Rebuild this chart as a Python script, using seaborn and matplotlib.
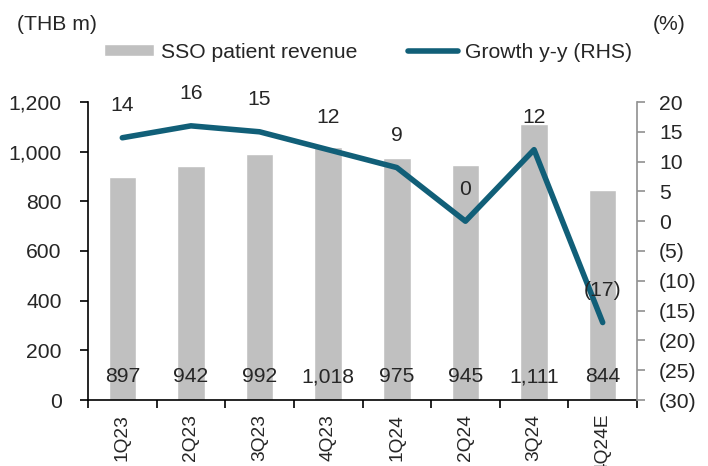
import numpy as np
import pandas as pd
import matplotlib
matplotlib.use("Agg")
import matplotlib.pyplot as plt
import seaborn as sns
from matplotlib.ticker import FuncFormatter, FixedLocator

quarters = ["1Q23", "2Q23", "3Q23", "4Q23", "1Q24", "2Q24", "3Q24", "4Q24E"]
revenue = [897, 942, 992, 1018, 975, 945, 1111, 844]
growth = [14, 16, 15, 12, 9, 0, 12, -17]

bar_color = "#c0c0c0"
line_color = "#115f78"
fs = 15.2

sns.set_theme(style="white")
plt.rcParams["font.family"] = ["Liberation Sans", "DejaVu Sans"]
plt.rcParams["font.size"] = fs

df = pd.DataFrame({"quarter": quarters, "revenue": revenue, "growth": growth})

fig = plt.figure(figsize=(7.08, 4.66), dpi=100)
ax = fig.add_axes([88 / 708, 66 / 466, 549 / 708, 298 / 466])

sns.barplot(data=df, x="quarter", y="revenue", color=bar_color, width=0.4,
            saturation=1, ax=ax, label="SSO patient revenue")
if ax.get_legend() is not None:
    ax.get_legend().remove()
ax.set_ylim(0, 1200)
ax.set_xlim(-0.5, len(quarters) - 0.5)
ax.set_xlabel("")
ax.set_ylabel("")
ax.yaxis.set_major_locator(FixedLocator(np.arange(0, 1201, 200)))
ax.yaxis.set_major_formatter(FuncFormatter(lambda v, p: f"{v:,.0f}"))
ax.tick_params(axis="y", direction="out", length=6, width=1.2, color="black",
               labelsize=fs, left=True, pad=13)
ax.tick_params(axis="x", which="major", length=0, labelsize=13.8, pad=10,
               labelrotation=90)
ax.set_xticks(np.arange(len(quarters) + 1) - 0.5, minor=True)
ax.tick_params(axis="x", which="minor", direction="out", length=6, width=1.2,
               color="black", bottom=True)
for side in ["top", "right"]:
    ax.spines[side].set_visible(False)
ax.spines["left"].set_color("black")
ax.spines["bottom"].set_color("black")
ax.spines["left"].set_linewidth(1.2)
ax.spines["bottom"].set_linewidth(1.2)

for i, v in enumerate(revenue):
    ax.text(i, 93, f"{v:,}", ha="center", va="center", fontsize=fs)

ax2 = ax.twinx()
x = np.arange(len(quarters))
sns.lineplot(x=x, y=growth, color=line_color, linewidth=4, ax=ax2,
             label="Growth y-y (RHS)", legend=False)
ax2.set_ylim(-30, 20)
ax2.yaxis.set_major_locator(FixedLocator(np.arange(-30, 21, 5)))
ax2.yaxis.set_major_formatter(
    FuncFormatter(lambda v, p: f"({abs(v):.0f})" if v < 0 else f"{v:.0f}"))
ax2.tick_params(axis="y", direction="out", length=6, width=1.2, color="#909090",
                labelsize=fs, right=True, pad=10)
for side in ["top", "left", "bottom"]:
    ax2.spines[side].set_visible(False)
ax2.spines["right"].set_color("#909090")
ax2.spines["right"].set_linewidth(1.2)

for xi, g in zip(x, growth):
    lbl = f"({abs(g)})" if g < 0 else f"{g}"
    ax2.annotate(lbl, (xi, g), xytext=(0, 23), textcoords="offset points",
                 ha="center", va="center", fontsize=fs)

handles = [ax.containers[0], ax2.get_lines()[0]]
labels = ["SSO patient revenue", "Growth y-y (RHS)"]
fig.legend(handles, labels, loc="center", bbox_to_anchor=(368 / 708, 1 - 52 / 466),
           ncol=2, frameon=False, fontsize=fs, handlelength=2.37,
           handleheight=0.5, handletextpad=0.33, columnspacing=2.37,
           borderpad=0)

fig.text(17 / 708, 1 - 25 / 466, "(THB m)", ha="left", va="center", fontsize=fs)
fig.text(686 / 708, 1 - 25 / 466, "(%)", ha="right", va="center", fontsize=fs)

fig.savefig("out.png", dpi=100)
